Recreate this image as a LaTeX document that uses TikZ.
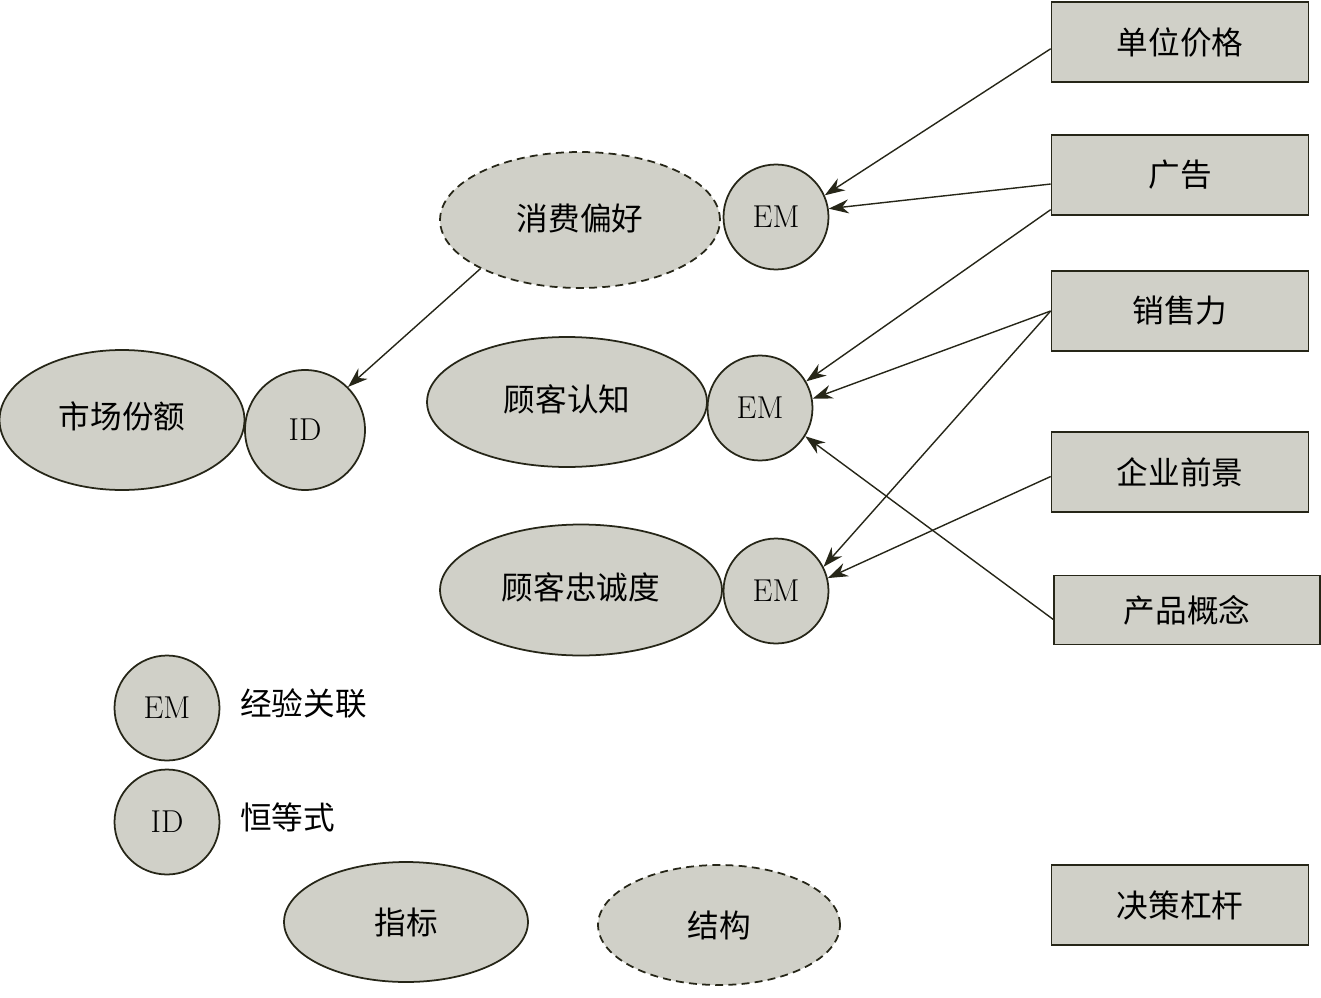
\documentclass[tikz,border=0pt]{standalone}
\usepackage{fontspec}
\newfontfamily\cjk{Noto Sans CJK SC}
\usetikzlibrary{arrows.meta, shapes.geometric}

\definecolor{shapegray}{RGB}{208,208,200}
\definecolor{inkline}{RGB}{38,38,24}

\begin{document}
\begin{tikzpicture}[
  x=0.02cm, y=-0.02cm,
  font=\fontsize{18}{22}\selectfont,
  measure/.style={ellipse, draw=inkline, fill=shapegray, line width=1pt, inner sep=0pt, font=\fontsize{18}{22}\selectfont\cjk},
  construct/.style={measure, dash pattern=on 4.5pt off 3pt},
  link/.style={circle, draw=inkline, fill=shapegray, line width=1pt, inner sep=0pt, minimum size=2.1cm},
  lever/.style={rectangle, draw=inkline, fill=shapegray, line width=1pt, minimum width=5.14cm, minimum height=1.6cm, font=\fontsize{18}{22}\selectfont\cjk},
  legend/.style={anchor=west, inner sep=0pt, font=\fontsize{18}{22}\selectfont\cjk},
  arrow/.style={-{Stealth[length=4mm, width=2.8mm, inset=1.3mm]}, draw=inkline, line width=0.8pt}
]
\useasboundingbox (0,0) rectangle (1321,997);

% measures and constructs
\node[measure, minimum width=4.9cm, minimum height=2.8cm] (share) at (122,420) {\raisebox{6pt}{市场份额}};
\node[link, minimum size=2.4cm] (id) at (305,430) {ID};
\node[construct, minimum width=5.6cm, minimum height=2.72cm] (pref) at (580,220) {\raisebox{3pt}{消费偏好}};
\node[link] (em1) at (776,217) {EM};
\node[measure, minimum width=5.6cm, minimum height=2.6cm] (aware) at (567,402) {\raisebox{4pt}{顾客认知}};
\node[link] (em2) at (760,408) {EM};
\node[measure, minimum width=5.64cm, minimum height=2.62cm] (loyal) at (581,590) {\raisebox{4pt}{顾客忠诚度}};
\node[link] (em3) at (776,591) {EM};

% decision levers
\node[lever] (price) at (1180,42) {单位价格};
\node[lever] (ad) at (1180,175) {广告};
\node[lever] (sales) at (1180,311) {销售力};
\node[lever] (outlook) at (1180,472) {企业前景};
\node[lever, minimum width=5.32cm, minimum height=1.38cm] (concept) at (1187,610) {产品概念};
\node[lever] (levers) at (1180,905) {决策杠杆};

% legend
\node[link] (legem) at (167,708) {EM};
\node[legend] (legemtext) at (240,703) {经验关联};
\node[link] (legid) at (167,822) {ID};
\node[legend] (legidtext) at (240,817) {恒等式};
\node[measure, minimum width=4.88cm, minimum height=2.4cm] (legmeasure) at (406,922) {指标};
\node[construct, minimum width=4.84cm, minimum height=2.4cm] (legconstruct) at (719,925) {结构};

% connectors
\draw[arrow] (price.183) -- (em1.24);
\draw[arrow] (ad.184) -- (em1.9);
\draw[arrow] (ad.195) -- (em2.30);
\draw[arrow] (sales.west) -- (em2.10);
\draw[arrow] (sales.west) -- (em3.27);
\draw[arrow] (outlook.182) -- (em3.14);
\draw[arrow] (concept.184) -- (em2.-32);
\draw[arrow] (pref.south west) -- (id.45);
\end{tikzpicture}
\end{document}
